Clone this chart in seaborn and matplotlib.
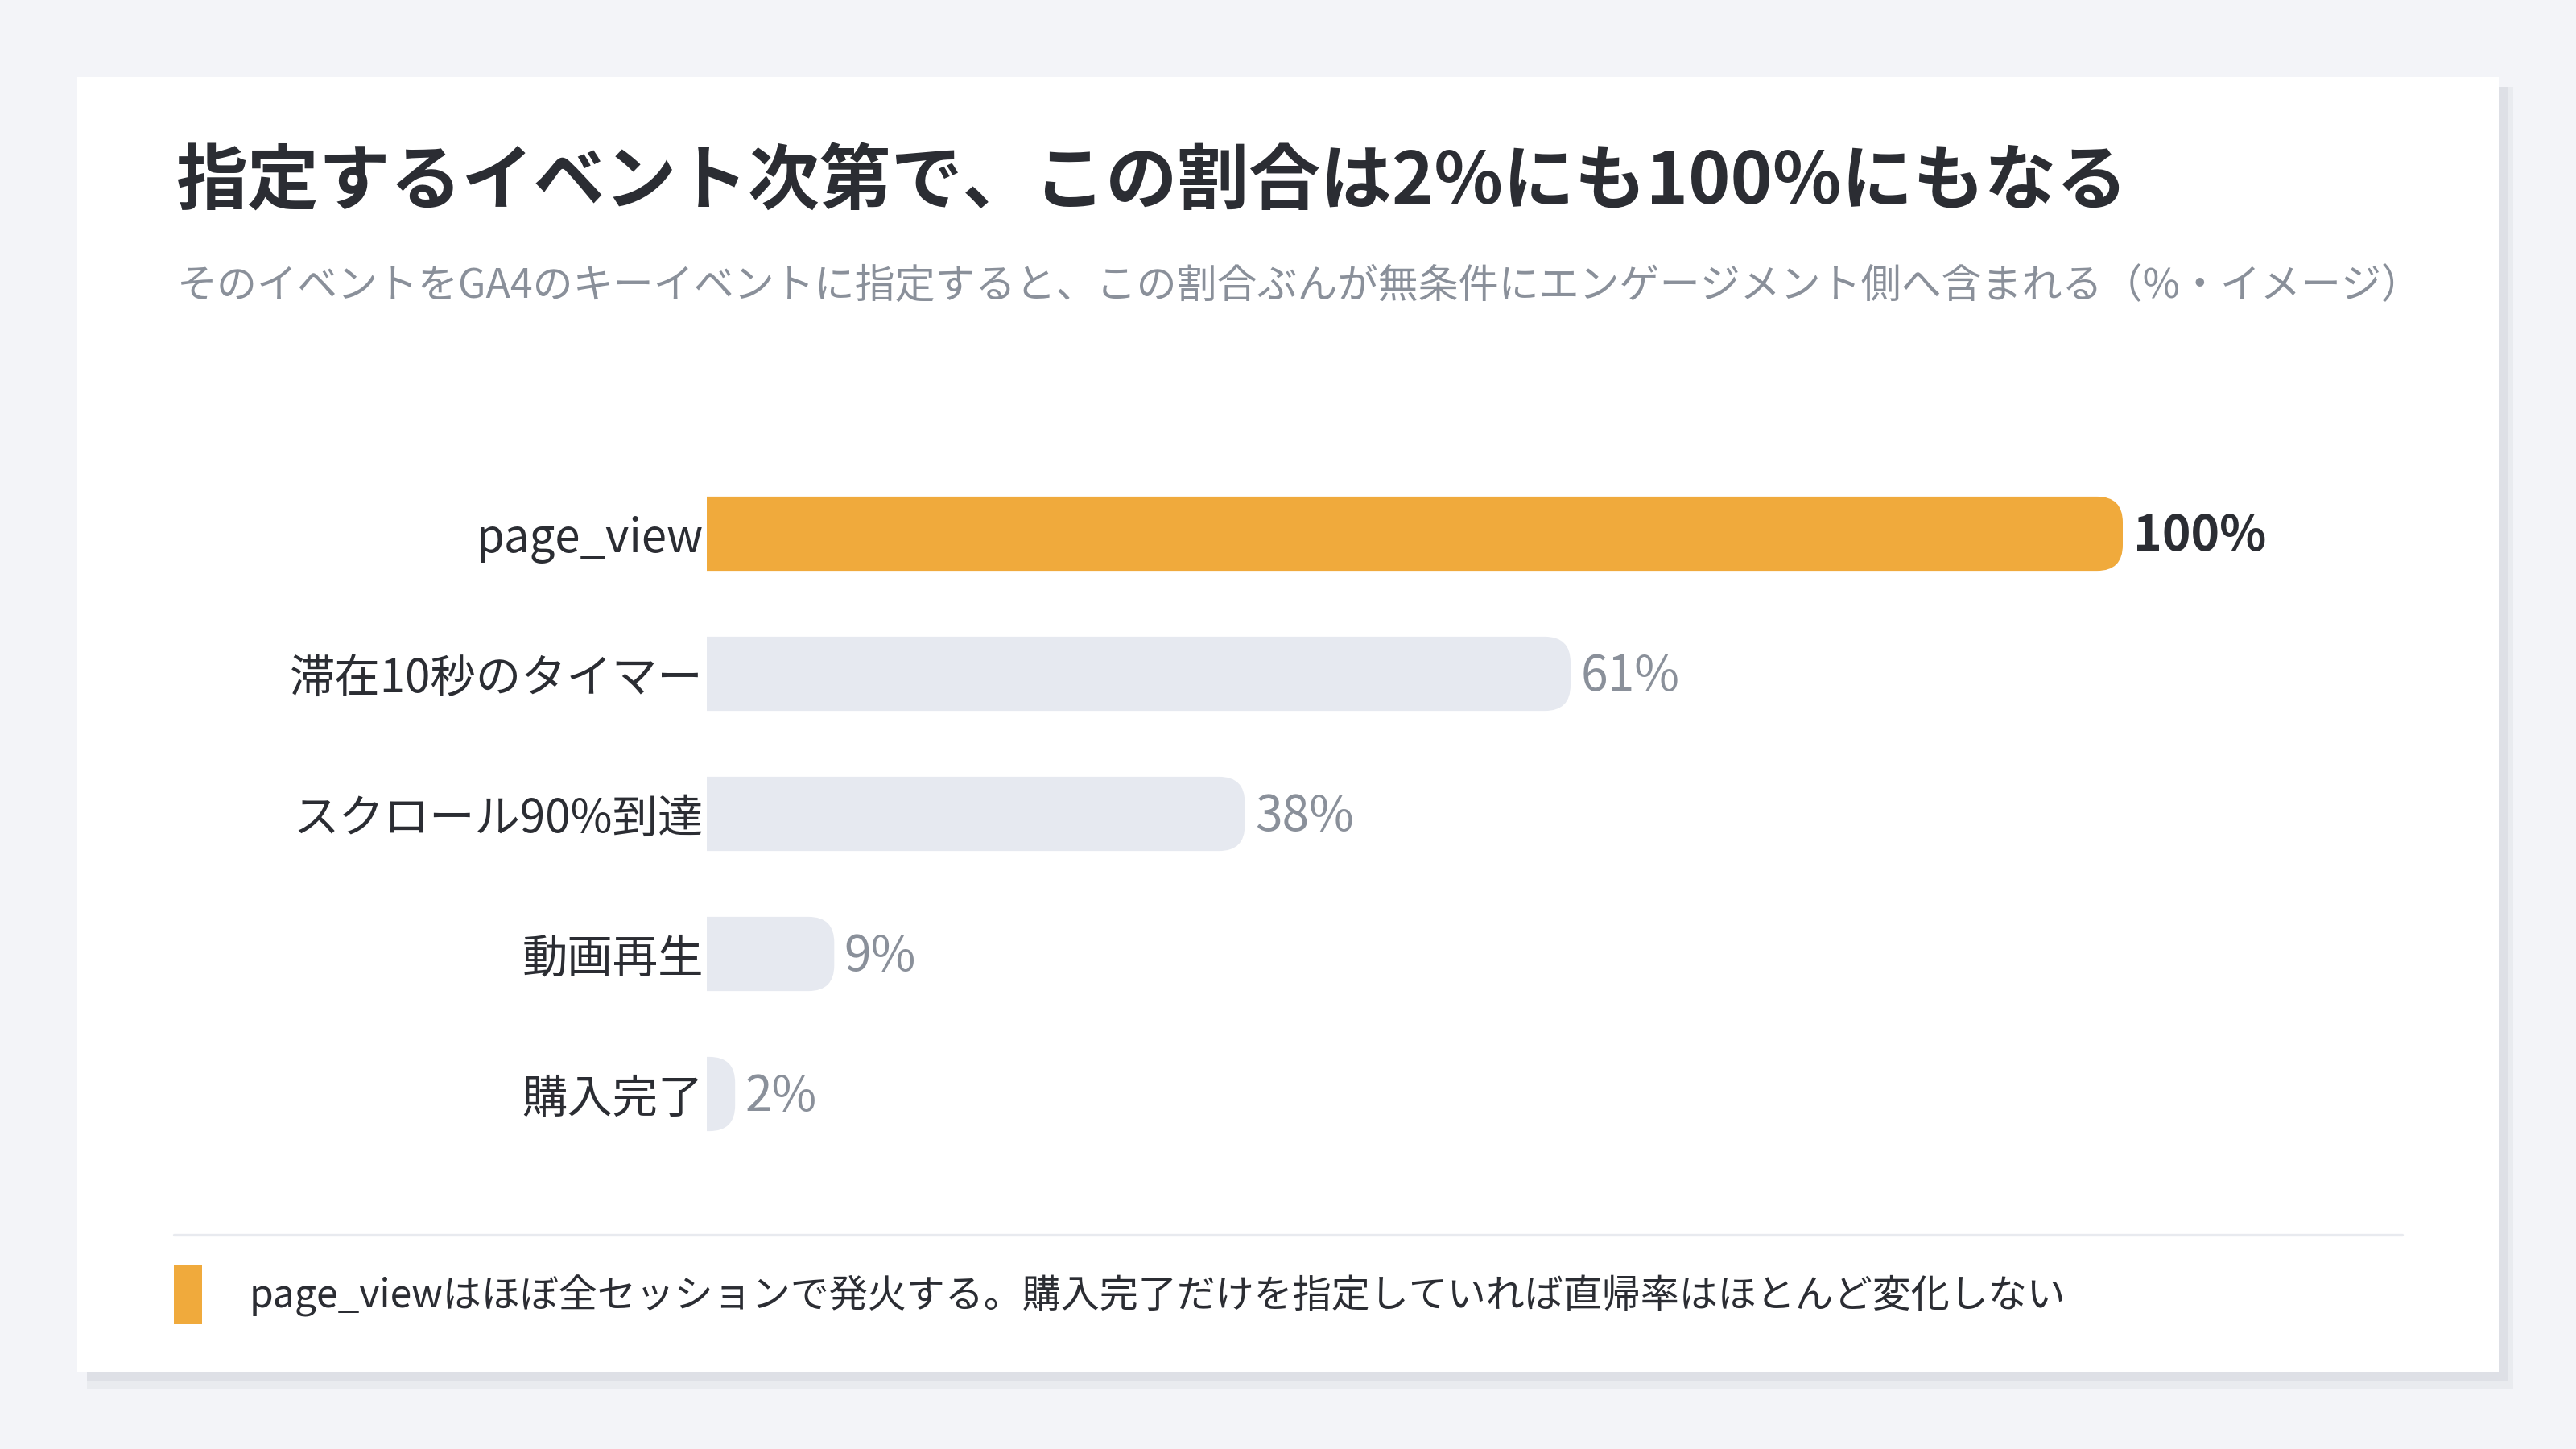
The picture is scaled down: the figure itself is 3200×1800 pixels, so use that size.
import numpy as np
import matplotlib
matplotlib.use("Agg")
import matplotlib.pyplot as plt
from matplotlib.patches import Rectangle, PathPatch
from matplotlib.path import Path
from matplotlib.transforms import IdentityTransform
import seaborn as sns

# ---- data ----
categories = ["page_view", "滞在10秒のタイマー", "スクロール90%到達", "動画再生", "購入完了"]
values = [100, 61, 38, 9, 2]
highlight = "page_view"

title = "指定するイベント次第で、この割合は2%にも100%にもなる"
subtitle = "そのイベントをGA4のキーイベントに指定すると、この割合ぶんが無条件にエンゲージメント側へ含まれる（%・イメージ）"
footnote = "page_viewはほぼ全セッションで発火する。購入完了だけを指定していれば直帰率はほとんど変化しない"

# ---- style ----
BG = "#F3F4F8"
CARD = "#FFFFFF"
SHADOW = "#DEE0E6"
ORANGE = "#F0AA3C"
GREY_BAR = "#E6E9F0"
DARK = "#2B2D33"
MUTED = "#8A909A"

sns.set_theme(style="white")
plt.rcParams["font.family"] = ["Noto Sans CJK JP", "DejaVu Sans"]

W, H, DPI = 3200, 1800, 200
fig = plt.figure(figsize=(W / DPI, H / DPI), dpi=DPI)
fig.patch.set_facecolor(BG)


def fx(px):
    return px / W


def fy(py):
    return 1 - py / H


def box(x0, y0, x1, y1, color, z):
    fig.add_artist(Rectangle((fx(x0), fy(y1)), fx(x1) - fx(x0), fy(y0) - fy(y1),
                             transform=fig.transFigure, facecolor=color,
                             edgecolor="none", zorder=z))


# card with soft shadow
box(108, 108, 3122, 1725, "#E9EBEF", 0)
box(108, 108, 3116, 1716, SHADOW, 0.5)
box(96, 96, 3104, 1704, CARD, 1)

# titles
fig.text(fx(218), fy(228), title, fontsize=32, fontweight="bold", color=DARK,
         va="center", ha="left", zorder=3)
fig.text(fx(220), fy(356), subtitle, fontsize=18, color=MUTED,
         va="center", ha="left", zorder=3)

# ---- bar chart ----
bar_left, bar_right = 878, 2637
top, bottom = 576, 1446
ax = fig.add_axes([fx(bar_left), fy(bottom), fx(bar_right) - fx(bar_left), (bottom - top) / H])
ax.set_facecolor("none")
ax.set_zorder(2)

palette = [ORANGE if c == highlight else GREY_BAR for c in categories]
sns.barplot(x=values, y=categories, hue=categories, palette=palette, legend=False,
            width=0.53, orient="h", saturation=1, ax=ax)

ax.set_xlim(0, 100)
ax.set_ylim(len(categories) - 0.5, -0.5)
for s in ax.spines.values():
    s.set_visible(False)
ax.set_xticks([])
ax.set_xlabel("")
ax.set_ylabel("")
ax.tick_params(axis="y", length=0, pad=1.5, labelsize=20.3, labelcolor=DARK)

# rounded right ends: rebuild each bar in pixel space
fig.canvas.draw()
radius = 32
for patch in list(ax.patches):
    x, y = patch.get_x(), patch.get_y()
    w, h = patch.get_width(), patch.get_height()
    if w <= 0:
        continue
    (x0, y0), (x1, y1) = ax.transData.transform([(x, y), (x + w, y + h)])
    y0, y1 = min(y0, y1), max(y0, y1)
    r = min(radius, x1 - x0, (y1 - y0) / 2)
    verts = [(x0, y0), (x1 - r, y0), (x1, y0), (x1, y0 + r), (x1, y1 - r),
             (x1, y1), (x1 - r, y1), (x0, y1), (x0, y0)]
    codes = [Path.MOVETO, Path.LINETO, Path.CURVE3, Path.CURVE3, Path.LINETO,
             Path.CURVE3, Path.CURVE3, Path.LINETO, Path.CLOSEPOLY]
    rounded = PathPatch(Path(verts, codes), facecolor=patch.get_facecolor(),
                        edgecolor="none", transform=IdentityTransform(), zorder=3)
    ax.add_artist(rounded)
    patch.set_visible(False)

# value labels
for i, (c, v) in enumerate(zip(categories, values)):
    hl = c == highlight
    ax.annotate(f"{v}%", xy=(v, i), xytext=(4.5, -1.2), textcoords="offset points",
                ha="left", va="center", fontsize=21.8,
                fontweight="bold" if hl else "normal",
                color=DARK if hl else MUTED, annotation_clip=False)

# ---- footer ----
fig.add_artist(plt.Line2D([fx(216), fx(2984)], [fy(1534), fy(1534)],
                          transform=fig.transFigure, color="#E8EAEF", lw=1.2, zorder=3))
box(216, 1572, 251, 1645, ORANGE, 3)
fig.text(fx(310), fy(1610), footnote, fontsize=17.3, color=DARK,
         va="center", ha="left", zorder=3)

fig.savefig("out.png", dpi=DPI, facecolor=BG)
